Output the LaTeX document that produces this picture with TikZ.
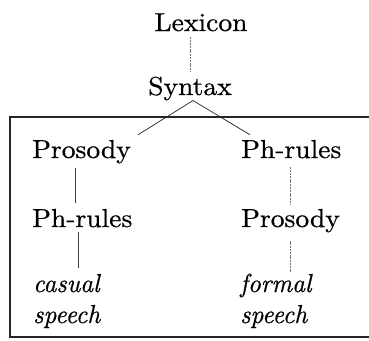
\documentclass[tikz,border=0pt]{standalone}
\usepackage{fontspec}
\setmainfont{lmroman10-regular.otf}[FakeStretch=1.06,FakeBold=0.6]
\newfontfamily\itfam{lmroman10-italic.otf}[FakeStretch=0.97,FakeBold=0.6]
\usetikzlibrary{calc}
\begin{document}
\begin{tikzpicture}[x=1pt,y=-1pt,
  lbl/.style={inner sep=0pt,font=\fontsize{26}{31}\selectfont},
  lblit/.style={inner sep=0pt,align=left,font=\fontsize{26}{31}\selectfont\itfam},
  faint/.style={draw=black!55,line width=0.5pt,dash pattern=on 2pt off 0.8pt},
  thin/.style={draw=black!75,line width=0.6pt},
  branch/.style={draw=black!85,line width=0.7pt},
  frame/.style={draw=black!85,line width=1.2pt}]
\useasboundingbox (0,0) rectangle (369,340);

% levels of the derivation
\node[lbl,anchor=base] (lex) at (201,31) {Lexicon};
\node[lbl,anchor=base] (syn) at (190,95) {Syntax};

% left column: casual speech
\node[lbl,anchor=base west] (prosL) at (32,158) {Prosody};
\node[lbl,anchor=base west] (phrL) at (32,227) {Ph-rules};
\node[lblit,anchor=base west] (casual) at (33,323) {casual\\speech};

% right column: formal speech
\node[lbl,anchor=base west] (phrR) at (241,158) {Ph-rules};
\node[lbl,anchor=base west] (prosR) at (241,227) {Prosody};
\node[lblit,anchor=base west] (formal) at (240,323) {formal\\speech};

% frame around the phonological component
\draw[frame] (369,117) -- (10,117) -- (10,337) -- (369,337);

% connectors
\draw[faint,shorten <=6pt,shorten >=5pt] (syn.north |- lex.south) -- (syn.north);
\draw[branch] ([xshift=3pt]syn.south) -- ($(prosL.north east)+(7,-5)$);
\draw[branch] ([xshift=3pt]syn.south) -- ($(phrR.north west)+(9,-5)$);
\draw[thin,shorten <=4pt,shorten >=6pt] ([xshift=43pt]prosL.south west) -- ([xshift=43pt]phrL.north west);
\draw[thin,shorten <=5pt,shorten >=6pt] ([xshift=46pt]phrL.south west) -- ([xshift=45pt]casual.north west);
\draw[faint,shorten <=9pt,shorten >=4pt] ([xshift=49pt]phrR.south west) -- ([xshift=49pt]prosR.north west);
\draw[faint,shorten <=8pt,shorten >=2pt] ([xshift=49pt]prosR.south west) -- ([xshift=50pt]formal.north west);
\end{tikzpicture}
\end{document}
